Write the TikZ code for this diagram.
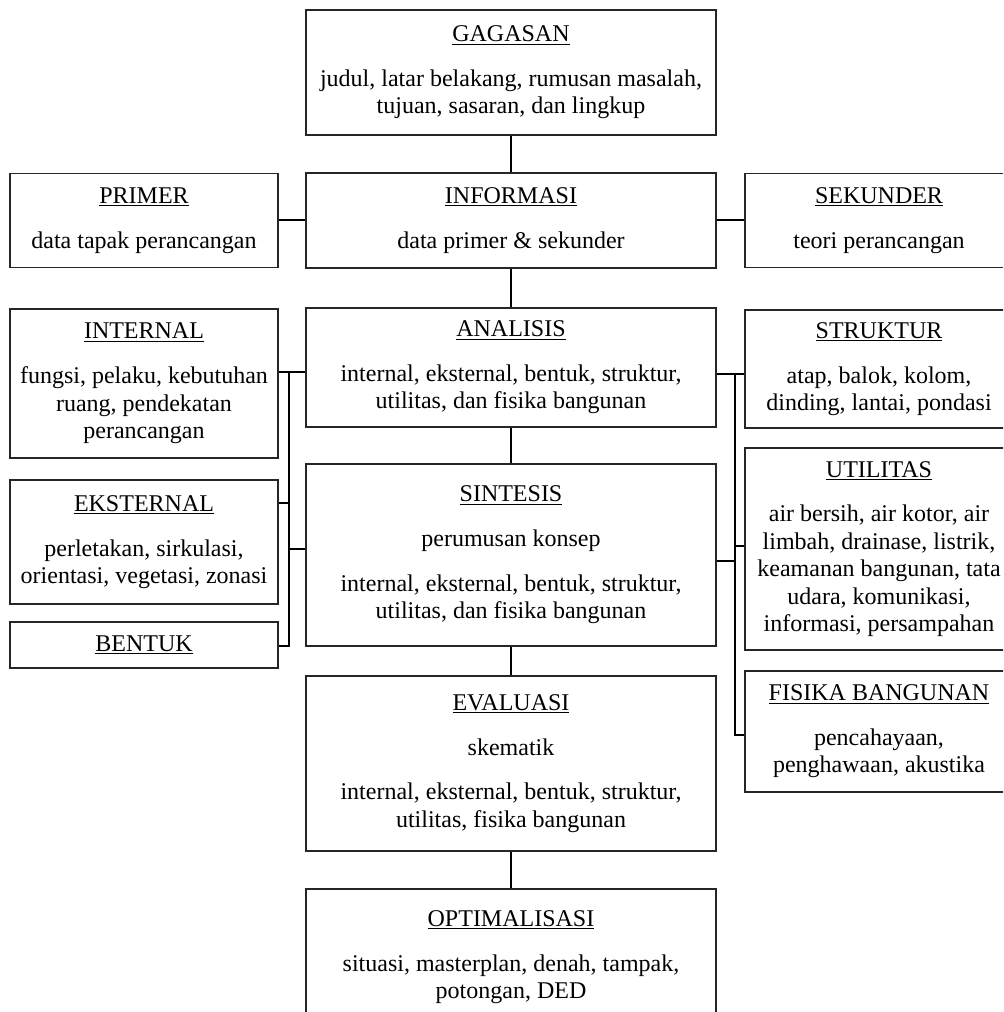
\documentclass[tikz,border=0pt]{standalone}
\usepackage{fontspec}
\setmainfont{Liberation Serif}
\usetikzlibrary{positioning}

\begin{document}
\begin{tikzpicture}[x=0.75pt,y=-0.75pt,
  kotak/.style={draw=black!85,line width=0.8pt,align=center,inner sep=0pt,font=\fontsize{18}{20.6}\selectfont},
  tengah/.style={kotak,minimum width=307.5pt},
  samping/.style={kotak,minimum width=201pt},
  garis/.style={line width=1.5pt}]

  \clip (0,0) rectangle (1003,1012);

  % kolom tengah
  \node[tengah,minimum height=93.75pt] at (511,72.5) (gagasan) {\underline{GAGASAN}\\[13pt]judul, latar belakang, rumusan masalah,\\tujuan, sasaran, dan lingkup};
  \node[tengah,minimum height=71.25pt] at (511,220.5) (informasi) {\underline{INFORMASI}\\[13pt]data primer \& sekunder};
  \node[tengah,minimum height=89.25pt] at (511,367.5) (analisis) {\underline{ANALISIS}\\[13pt]internal, eksternal, bentuk, struktur,\\utilitas, dan fisika bangunan};
  \node[tengah,minimum height=136.5pt] at (511,555) (sintesis) {\underline{SINTESIS}\\[13pt]perumusan konsep\\[13pt]internal, eksternal, bentuk, struktur,\\utilitas, dan fisika bangunan};
  \node[tengah,minimum height=131.25pt] at (511,763.5) (evaluasi) {\underline{EVALUASI}\\[13pt]skematik\\[13pt]internal, eksternal, bentuk, struktur,\\utilitas, fisika bangunan};
  \node[tengah,minimum height=102pt] at (511,957) (optimalisasi) {\underline{OPTIMALISASI}\\[13pt]situasi, masterplan, denah, tampak,\\potongan, DED};

  % kolom kiri
  \node[samping,minimum height=70.5pt] at (144,220.5) (primer) {\underline{PRIMER}\\[13pt]data tapak perancangan};
  \node[samping,minimum height=111.75pt] at (144,383.5) (internal) {\underline{INTERNAL}\\[13pt]fungsi, pelaku, kebutuhan\\ruang, pendekatan\\perancangan};
  \node[samping,minimum height=93pt] at (144,542) (eksternal) {\underline{EKSTERNAL}\\[13pt]perletakan, sirkulasi,\\orientasi, vegetasi, zonasi};
  \node[samping,minimum height=34.5pt] at (144,645) (bentuk) {\underline{BENTUK}};

  % kolom kanan
  \node[samping,minimum height=70.5pt] at (879,220.5) (sekunder) {\underline{SEKUNDER}\\[13pt]teori perancangan};
  \node[samping,minimum height=88.5pt] at (879,369) (struktur) {\underline{STRUKTUR}\\[13pt]atap, balok, kolom,\\dinding, lantai, pondasi};
  \node[samping,minimum height=151.5pt] at (879,549) (utilitas) {\underline{UTILITAS}\\[13pt]air bersih, air kotor, air\\limbah, drainase, listrik,\\keamanan bangunan, tata\\udara, komunikasi,\\informasi, persampahan};
  \node[samping,minimum height=90.75pt] at (879,731.5) (fisika) {\underline{FISIKA BANGUNAN}\\[13pt]pencahayaan,\\penghawaan, akustika};

  \coordinate (kiri1) at (289,372);
  \coordinate (kiri2) at (289,503);
  \coordinate (kiri3) at (289,549);
  \coordinate (kiri4) at (289,646);
  \coordinate (kanan1) at (735,374);
  \coordinate (kanan2) at (735,546);
  \coordinate (kanan3) at (735,561);
  \coordinate (kanan4) at (735,735);

  \draw[garis] (gagasan) -- (informasi);
  \draw[garis] (informasi) -- (analisis);
  \draw[garis] (analisis) -- (sintesis);
  \draw[garis] (sintesis) -- (evaluasi);
  \draw[garis] (evaluasi) -- (optimalisasi);
  \draw[garis] (primer) -- (informasi);
  \draw[garis] (informasi) -- (sekunder);

  % cabang kiri
  \draw[garis] (internal.east |- kiri1) -- (analisis.west |- kiri1);
  \draw[garis] (kiri1) -- (kiri4) -- (bentuk.east |- kiri4);
  \draw[garis] (eksternal.east |- kiri2) -- (kiri2);
  \draw[garis] (kiri3) -- (sintesis.west |- kiri3);

  % cabang kanan
  \draw[garis] (analisis.east |- kanan1) -- (struktur.west |- kanan1);
  \draw[garis] (kanan1) -- (kanan4) -- (fisika.west |- kanan4);
  \draw[garis] (kanan2) -- (utilitas.west |- kanan2);
  \draw[garis] (sintesis.east |- kanan3) -- (kanan3);

\end{tikzpicture}
\end{document}
